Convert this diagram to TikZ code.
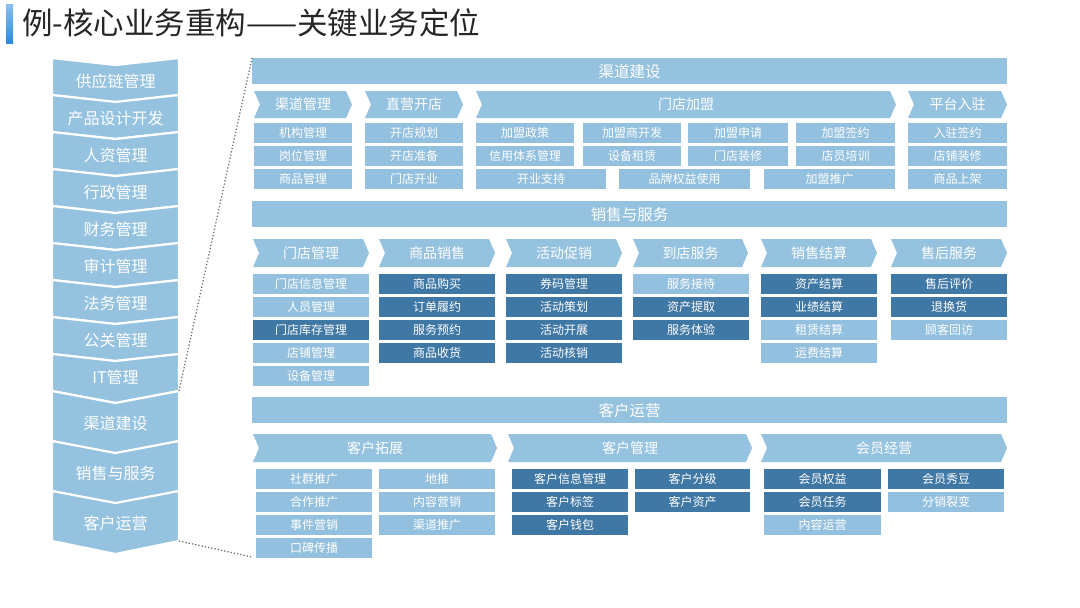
\documentclass[tikz,border=0pt]{standalone}
\usepackage{fontspec}
\setmainfont{Noto Sans CJK SC}
\definecolor{bandblue}{HTML}{95C2DF}
\definecolor{lb}{HTML}{93C0DE}
\definecolor{db}{HTML}{3F77A5}
\definecolor{titleblue}{HTML}{2A8CE0}

% 一行右向箭头：#1 上沿, #2 下沿, #3 名前缀, #4 列表
\newcommand{\chevrow}[4]{%
  \foreach \xa/\xb/\lab [count=\i] in {#4}{
    \fill[bandblue] (\xa,#1) -- (\xb-6,#1) -- (\xb,{(#1+#2)/2}) -- (\xb-6,#2)
      -- (\xa,#2) -- (\xa+6,{(#1+#2)/2}) -- cycle;
    \node[chevtxt] (#3\i) at ({(\xa+\xb)/2},{(#1+#2)/2}) {\lab};
  }}
% 一列小格：#1 左, #2 宽, #3 首行上沿, #4 名前缀, #5 列表
\newcommand{\cellcol}[5]{%
  \foreach \lab/\col [count=\j] in {#5}{
    \node[cellbox,fill=\col,minimum width=#2pt] (#4\j) at (#1,{#3+23*(\j-1)}) {\lab};
  }}

\begin{document}
\begin{tikzpicture}[x=1pt,y=-1pt,
  every node/.style={text=white,inner sep=0pt},
  band/.style={fill=bandblue,anchor=north west,minimum width=755pt,minimum height=26pt,
    font=\fontsize{15.5}{16}\selectfont},
  cellbox/.style={anchor=north west,minimum height=20pt,font=\fontsize{12}{12}\selectfont},
  chevtxt/.style={font=\fontsize{14}{14}\selectfont},
  sidetxt/.style={font=\fontsize{16}{16}\selectfont},
  sideblock/.style={fill=bandblue,draw=white,line width=2.2pt},
  zoomline/.style={draw=black!55,dotted,line width=1.3pt}]
  \useasboundingbox (0,0) rectangle (1080,608);

  % 标题
  \shade[top color=titleblue!55,bottom color=titleblue] (6,4) rectangle (13,43);
  \node[text=black!85,anchor=west,font=\fontsize{30.5}{31}\selectfont] (title) at (22,23)
    {例-核心业务重构——关键业务定位};

  % 左侧业务列
  \foreach \lab [count=\i] in {供应链管理,产品设计开发,人资管理,行政管理,财务管理,
      审计管理,法务管理,公关管理,IT管理}{
    \pgfmathsetmacro\ytop{58+37*(\i-1)}
    \pgfmathsetmacro\ybot{\ytop+37}
    \pgfmathsetmacro\dep{\i==9 ? 12 : 7}
    \filldraw[sideblock] (52,\ytop) -- (115.5,\ytop+7) -- (179,\ytop) -- (179,\ybot)
      -- (115.5,\ybot+\dep) -- (52,\ybot) -- cycle;
    \node[sidetxt] (side\i) at (115.5,\ytop+23) {\lab};
  }
  \foreach \lab [count=\i] in {渠道建设,销售与服务,客户运营}{
    \pgfmathsetmacro\ytop{391+50*(\i-1)}
    \pgfmathsetmacro\ybot{\ytop+50}
    \filldraw[sideblock] (52,\ytop) -- (115.5,\ytop+12) -- (179,\ytop) -- (179,\ybot)
      -- (115.5,\ybot+13) -- (52,\ybot) -- cycle;
    \node[sidetxt] (key\i) at (115.5,\ytop+32) {\lab};
  }

  % 渠道建设
  \node[band] (hd1) at (252,58) {渠道建设};
  \chevrow{91}{118}{qd}{254/352/渠道管理,365/463/直营开店,476/896/门店加盟,908/1007/平台入驻}
  \cellcol{254}{98}{123}{qa}{机构管理/lb,岗位管理/lb,商品管理/lb}
  \cellcol{365}{98}{123}{qb}{开店规划/lb,开店准备/lb,门店开业/lb}
  \cellcol{476}{98}{123}{qc}{加盟政策/lb,信用体系管理/lb}
  \cellcol{583}{98}{123}{qe}{加盟商开发/lb,设备租赁/lb}
  \cellcol{688}{100}{123}{qf}{加盟申请/lb,门店装修/lb}
  \cellcol{796}{99}{123}{qg}{加盟签约/lb,店员培训/lb}
  \foreach \x/\w/\lab [count=\j] in {476/130/开业支持,619/131/品牌权益使用,764/131/加盟推广}
    \node[cellbox,fill=lb,minimum width=\w pt] (qh\j) at (\x,169) {\lab};
  \cellcol{908}{99}{123}{qi}{入驻签约/lb,店铺装修/lb,商品上架/lb}

  % 销售与服务
  \node[band] (hd2) at (252,201) {销售与服务};
  \chevrow{239}{267}{xs}{253/369/门店管理,379/495/商品销售,506/622/活动促销,
    633/748/到店服务,761/877/销售结算,891/1007/售后服务}
  \cellcol{253}{116}{274}{xa}{门店信息管理/lb,人员管理/lb,门店库存管理/db,店铺管理/lb,设备管理/lb}
  \cellcol{379}{116}{274}{xb}{商品购买/db,订单履约/db,服务预约/db,商品收货/db}
  \cellcol{506}{116}{274}{xc}{券码管理/db,活动策划/db,活动开展/db,活动核销/db}
  \cellcol{633}{116}{274}{xd}{服务接待/lb,资产提取/db,服务体验/db}
  \cellcol{761}{116}{274}{xe}{资产结算/db,业绩结算/db,租赁结算/lb,运费结算/lb}
  \cellcol{891}{116}{274}{xf}{售后评价/db,退换货/db,顾客回访/lb}

  % 客户运营
  \node[band] (hd3) at (252,397) {客户运营};
  \chevrow{434}{462}{ky}{253/497/客户拓展,508/752/客户管理,761/1007/会员经营}
  \cellcol{256}{116}{469}{ka}{社群推广/lb,合作推广/lb,事件营销/lb,口碑传播/lb}
  \cellcol{379}{116}{469}{kb}{地推/lb,内容营销/lb,渠道推广/lb}
  \cellcol{512}{116}{469}{kc}{客户信息管理/db,客户标签/db,客户钱包/db}
  \cellcol{635}{115}{469}{kd}{客户分级/db,客户资产/db}
  \cellcol{764}{117}{469}{ke}{会员权益/db,会员任务/db,内容运营/lb}
  \cellcol{888}{116}{469}{kf}{会员秀豆/db,分销裂变/lb}

  % 放大虚线
  \coordinate (zA) at (179,391);
  \coordinate (zB) at (179,541);
  \coordinate (zC) at (252,557);
  \draw[zoomline] (zA) -- (hd1.north west);
  \draw[zoomline] (zB) -- (zC);
\end{tikzpicture}
\end{document}
